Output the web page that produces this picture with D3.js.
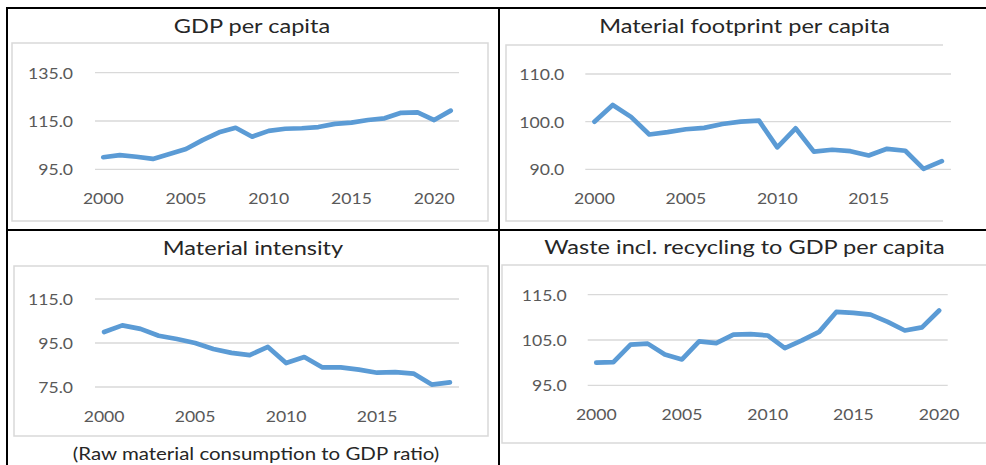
<!DOCTYPE html>
<html>
<head>
<meta charset="utf-8">
<script src="https://cdn.jsdelivr.net/npm/d3@7"></script>
<style>
  html, body { margin: 0; padding: 0; background: #fff; }
  svg { display: block; }
</style>
</head>
<body>
<svg id="chart" width="986" height="465"></svg>
<script>
// ---- data (index, 2000 = 100) ----
const gdpYears = d3.range(2000, 2022);
const gdpValues = [100.0, 100.9, 100.2, 99.3, 101.3, 103.4, 107.1, 110.3, 112.2, 108.5, 110.9,
                   111.8, 112.0, 112.5, 113.8, 114.3, 115.4, 116.1, 118.4, 118.6, 115.4, 119.3];
const gdpTicks = [95, 115, 135];

const footprintYears = d3.range(2000, 2020);
const footprintValues = [100.0, 103.5, 101.0, 97.3, 97.8, 98.4, 98.7, 99.5, 100.0, 100.2,
                         94.6, 98.6, 93.7, 94.1, 93.8, 92.9, 94.3, 93.9, 90.1, 91.7];
const footprintTicks = [90, 100, 110];

const intensityYears = d3.range(2000, 2020);
const intensityValues = [100.0, 103.0, 101.4, 98.3, 96.8, 95.0, 92.3, 90.5, 89.5, 93.2,
                         85.9, 88.6, 83.9, 83.9, 82.9, 81.5, 81.8, 81.1, 76.1, 77.1];
const intensityTicks = [75, 95, 115];

const wasteYears = d3.range(2000, 2021);
const wasteValues = [100.0, 100.1, 104.0, 104.2, 101.8, 100.7, 104.7, 104.3, 106.2, 106.3,
                     106.0, 103.2, 104.9, 106.8, 111.2, 111.0, 110.6, 109.0, 107.1, 107.8, 111.5];
const wasteTicks = [95, 105, 115];

const yearLabels = [2000, 2005, 2010, 2015, 2020];

const titles = ["GDP per capita", "Material footprint per capita",
                "Material intensity", "Waste incl. recycling to GDP per capita"];
const subtitle = "(Raw material consumption to GDP ratio)";

// ---- styling ----
const FONT = "Lato, 'Open Sans', sans-serif";
const LINE = "#5B9BD5";
const GRID = "#d9d9d9";
const LABEL = "#595959";
const TITLE = "#262626";

const svg = d3.select("#chart");

// text drawn with a slight horizontal stretch (sx)
function stretchedText(g, x, y, str, opts) {
  return g.append("text")
    .attr("transform", `translate(${x},${y}) scale(${opts.sx},1)`)
    .attr("text-anchor", opts.anchor || "middle")
    .attr("font-family", FONT)
    .attr("font-size", opts.size)
    .attr("fill", opts.fill)
    .text(str);
}

// ---- outer table rules ----
const rules = svg.append("g").attr("stroke", "#000").attr("stroke-width", 2);
rules.append("line").attr("x1", 6).attr("x2", 986).attr("y1", 8).attr("y2", 8);
rules.append("line").attr("x1", 6).attr("x2", 986).attr("y1", 230).attr("y2", 230);
rules.append("line").attr("x1", 7).attr("x2", 7).attr("y1", 7).attr("y2", 465);
rules.append("line").attr("x1", 499).attr("x2", 499).attr("y1", 7).attr("y2", 465);

// ---- panels ----
const panels = [
  { title: titles[0], cx: 252, ty: 33, years: gdpYears, values: gdpValues, ticks: gdpTicks,
    box: { x0: 12, y0: 43, x1: 488, y1: 221, right: true },
    plot: { x0: 95, x1: 459, yTop: 72.7, yBot: 169.3 }, labelGap: 22 },
  { title: titles[1], cx: 744.5, ty: 33, years: footprintYears, values: footprintValues, ticks: footprintTicks,
    box: { x0: 506, y0: 45, x1: 943, y1: 221, right: false },
    plot: { x0: 585.3, x1: 951, yTop: 74, yBot: 169.3 }, labelGap: 21 },
  { title: titles[2], cx: 253, ty: 254.5, years: intensityYears, values: intensityValues, ticks: intensityTicks,
    box: { x0: 14, y0: 266, x1: 488, y1: 436, right: true },
    plot: { x0: 95, x1: 459, yTop: 299, yBot: 387 }, labelGap: 22 },
  { title: titles[3], cx: 744.5, ty: 254, years: wasteYears, values: wasteValues, ticks: wasteTicks,
    box: { x0: 502, y0: 265, x1: 990, y1: 443, right: false },
    plot: { x0: 587.7, x1: 947.7, yTop: 294.7, yBot: 385.3 }, labelGap: 21 }
];

panels.forEach(p => {
  const g = svg.append("g");

  // chart area frame
  const b = p.box;
  const frame = d3.path();
  if (b.right) {
    frame.rect(b.x0, b.y0, b.x1 - b.x0, b.y1 - b.y0);
  } else {
    frame.moveTo(b.x1, b.y0); frame.lineTo(b.x0, b.y0);
    frame.lineTo(b.x0, b.y1); frame.lineTo(b.x1, b.y1);
  }
  g.append("path").attr("d", frame.toString())
    .attr("fill", "none").attr("stroke", GRID).attr("stroke-width", 1.5);

  // title
  stretchedText(g, p.cx, p.ty, p.title, { size: 19, sx: 1.24, fill: TITLE });

  // scales
  const x = d3.scalePoint().domain(p.years).range([p.plot.x0, p.plot.x1]).padding(0.5);
  const y = d3.scaleLinear().domain(d3.extent(p.ticks)).range([p.plot.yBot, p.plot.yTop]);

  // gridlines + value labels
  p.ticks.forEach(t => {
    g.append("line")
      .attr("x1", p.plot.x0).attr("x2", p.plot.x1)
      .attr("y1", y(t)).attr("y2", y(t))
      .attr("stroke", GRID).attr("stroke-width", 1.3);
    stretchedText(g, p.plot.x0 - p.labelGap, y(t) + 6, d3.format(".1f")(t),
      { anchor: "end", size: 16, sx: 1.1, fill: LABEL });
  });

  // year labels
  yearLabels.filter(yr => p.years.includes(yr)).forEach(yr => {
    stretchedText(g, x(yr), p.plot.yBot + 35, String(yr), { size: 16, sx: 1.1, fill: LABEL });
  });

  // series line
  const line = d3.line().x((d, i) => x(p.years[i])).y(d => y(d));
  g.append("path").datum(p.values)
    .attr("d", line)
    .attr("fill", "none")
    .attr("stroke", LINE)
    .attr("stroke-width", 4.7)
    .attr("stroke-linejoin", "round")
    .attr("stroke-linecap", "round");
});

// note under the material intensity panel
stretchedText(svg, 256, 459.5, subtitle, { size: 17.5, sx: 1.17, fill: TITLE });
</script>
</body>
</html>
